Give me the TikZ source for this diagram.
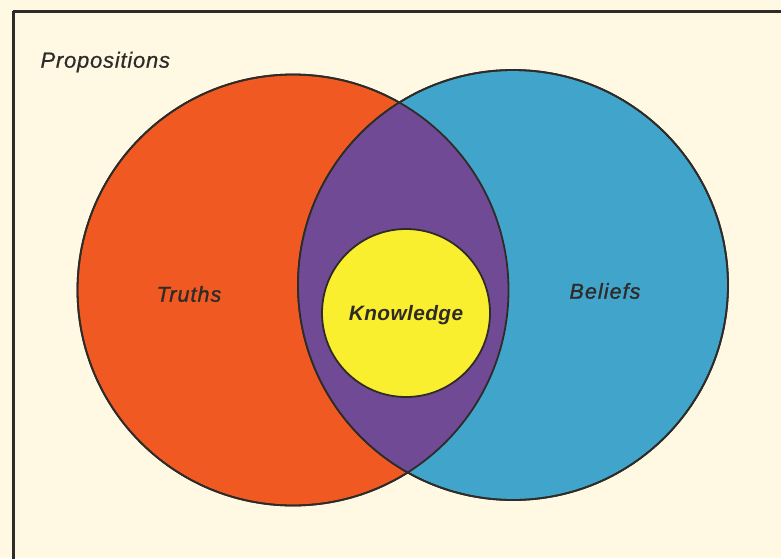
\documentclass[tikz,border=0pt]{standalone}
\usepackage{fontspec}
\setmainfont{Liberation Sans}
\newfontfamily\labelfont[LetterSpace=3.5,FakeBold=0.6]{Liberation Sans}
\newfontfamily\setfont[LetterSpace=5,FakeBold=1.2]{Liberation Sans}
\newfontfamily\keyfont[LetterSpace=2]{Liberation Sans}
\definecolor{paper}{HTML}{FFF9E3}
\definecolor{truthred}{HTML}{F05A22}
\definecolor{beliefblue}{HTML}{41A4CA}
\definecolor{overlap}{HTML}{714A96}
\definecolor{knowyellow}{HTML}{F9EF2E}
\definecolor{ink}{HTML}{2E2B28}
\begin{document}
\begin{tikzpicture}[x=1pt,y=-1pt,
  setcircle/.style={circle,inner sep=0pt,draw=ink,line width=1.8pt},
  setlabel/.style={font=\setfont\fontsize{21.5}{24}\selectfont\itshape,text=ink},
  frame/.style={draw=ink,line width=3pt}]
  \useasboundingbox (0,0) rectangle (781,558);
  \fill[paper] (0,0) rectangle (781,558);
  \draw[frame] (13,11) -- (790,11);
  \draw[frame] (13,11) -- (13,570);

  % the two sets
  \node[setcircle,fill=truthred,minimum size=431pt] (truths) at (293,290) {};
  \node[setcircle,fill=beliefblue,minimum size=430pt] (beliefs) at (513,285) {};
  % their overlap
  \begin{scope}
    \clip (293,290) circle (215.5pt);
    \fill[overlap] (513,285) circle (215pt);
  \end{scope}
  \draw[ink,line width=1.8pt] (293,290) circle (215.5pt);
  \draw[ink,line width=1.8pt] (513,285) circle (215pt);
  % knowledge inside the overlap
  \node[setcircle,fill=knowyellow,minimum size=168pt] (knowledge) at (406,313) {};

  \node[setlabel,font=\labelfont\fontsize{22}{24}\selectfont\itshape,anchor=west] (props) at (37,62) {Propositions};
  \node[setlabel] (truthslabel) at (189,294) {Truths};
  \node[setlabel] (beliefslabel) at (605,291) {Beliefs};
  \node[setlabel,font=\keyfont\fontsize{20.8}{24}\selectfont\itshape\bfseries] (knowlabel) at (406,315) {Knowledge};
\end{tikzpicture}
\end{document}
